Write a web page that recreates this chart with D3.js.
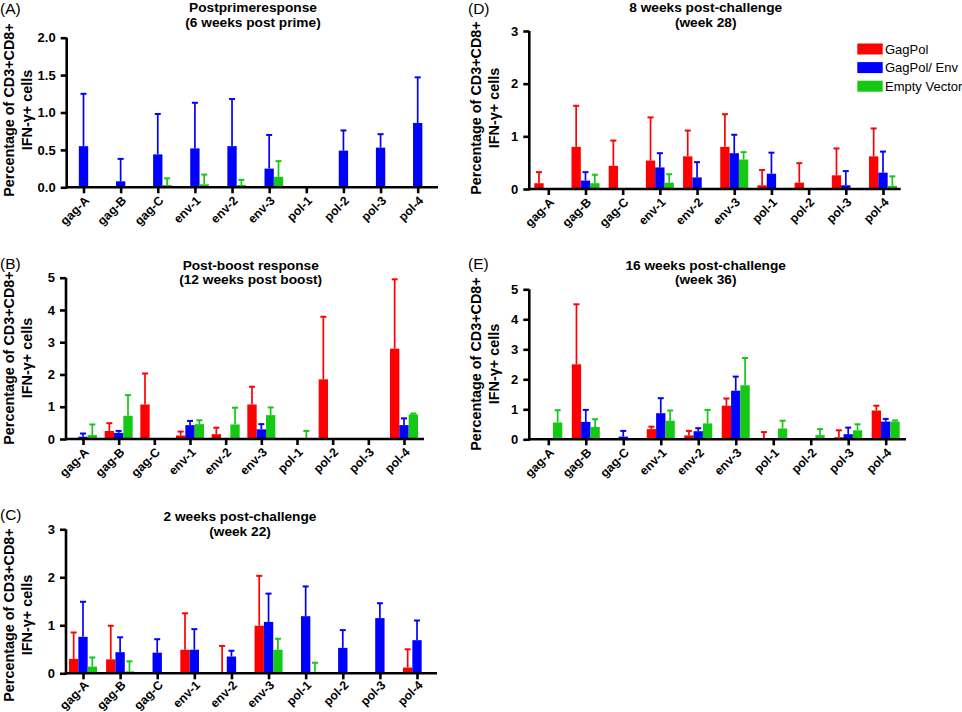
<!DOCTYPE html>
<html>
<head>
<meta charset="utf-8">
<script src="https://cdn.jsdelivr.net/npm/d3@7"></script>
<style>
  html, body { margin: 0; padding: 0; background: #fff; }
  svg { display: block; font-family: Arial, "Liberation Sans", sans-serif; }
</style>
</head>
<body>
<svg id="chart" width="962" height="712"></svg>
<script>
// ---------- DATA ----------
const categories = ["gag-A","gag-B","gag-C","env-1","env-2","env-3","pol-1","pol-2","pol-3","pol-4"];
const seriesNames = ["GagPol","GagPol/ Env","Empty Vector"];
const seriesColors = ["#ff0000","#0000ff","#14c814"];

// (A) Postprime response – mean and upper error (mean + SD)
const aGagPol        = [0,0,0,0,0,0,0,0,0,0];
const aGagPolUp      = [0,0,0,0,0,0,0,0,0,0];
const aGagPolEnv     = [0.55,0.08,0.44,0.52,0.55,0.25,0,0.49,0.53,0.86];
const aGagPolEnvUp   = [1.25,0.38,0.98,1.13,1.18,0.70,0,0.76,0.71,1.47];
const aEmpty         = [0,0,0.03,0.04,0.03,0.14,0,0,0,0];
const aEmptyUp       = [0,0,0.12,0.17,0.10,0.35,0,0,0,0];

// (B) Post-boost response
const bGagPol        = [0,0.25,1.07,0.11,0.15,1.07,0,1.85,0,2.80];
const bGagPolUp      = [0,0.49,2.03,0.23,0.35,1.62,0,3.79,0,4.95];
const bGagPolEnv     = [0.07,0.19,0,0.43,0,0.30,0,0,0,0.43];
const bGagPolEnvUp   = [0.17,0.25,0,0.56,0,0.46,0,0,0,0.64];
const bEmpty         = [0.12,0.72,0,0.46,0.45,0.74,0,0,0,0.76];
const bEmptyUp       = [0.45,1.36,0,0.58,0.97,0.98,0.25,0,0,0.79];

// (C) 2 weeks post-challenge
const cGagPol        = [0.30,0.29,0,0.49,0.01,0.99,0,0,0,0.12];
const cGagPolUp      = [0.85,0.99,0,1.25,0.57,2.03,0,0,0,0.50];
const cGagPolEnv     = [0.76,0.44,0.43,0.49,0.35,1.07,1.19,0.53,1.15,0.69];
const cGagPolEnvUp   = [1.49,0.75,0.71,0.92,0.47,1.66,1.81,0.90,1.46,1.10];
const cEmpty         = [0.14,0.04,0,0,0,0.49,0.03,0,0,0];
const cEmptyUp       = [0.33,0.25,0,0,0,0.72,0.22,0,0,0];

// (D) 8 weeks post-challenge
const dGagPol        = [0.11,0.80,0.44,0.54,0.62,0.80,0.07,0.12,0.26,0.62];
const dGagPolUp      = [0.32,1.58,0.92,1.36,1.11,1.42,0.36,0.49,0.77,1.15];
const dGagPolEnv     = [0,0.16,0,0.41,0.22,0.68,0.29,0,0.07,0.31];
const dGagPolEnvUp   = [0,0.32,0,0.68,0.51,1.03,0.69,0,0.34,0.71];
const dEmpty         = [0,0.11,0,0.12,0,0.56,0,0,0,0.06];
const dEmptyUp       = [0,0.27,0,0.28,0,0.70,0,0,0,0.24];

// (E) 16 weeks post-challenge
const eGagPol        = [0,2.50,0,0.34,0.13,1.12,0.04,0,0.07,0.96];
const eGagPolUp      = [0,4.50,0,0.42,0.28,1.36,0.24,0,0.30,1.12];
const eGagPolEnv     = [0,0.58,0.09,0.87,0.27,1.62,0,0,0.17,0.59];
const eGagPolEnvUp   = [0,0.98,0.28,1.37,0.37,2.09,0,0,0.39,0.68];
const eEmpty         = [0.56,0.41,0,0.62,0.53,1.80,0.36,0.14,0.30,0.59];
const eEmptyUp       = [0.97,0.67,0,0.96,0.98,2.71,0.62,0.34,0.50,0.63];

const yTicksA = [0,0.5,1,1.5,2];
const yTicks3 = [0,1,2,3];
const yTicks5 = [0,1,2,3,4,5];
const yLabelLines = ["Percentage of CD3+CD8+","IFN-\u03B3+ cells"];

// ---------- LAYOUT ----------
const panels = [
  { letter:"(A)", lx:0, ly:13.5, title:["Postprimeresponse","(6 weeks post prime)"], tx:253, ty:[7,21.8],
    x0:66.7, xEnd:438, first:83.5, last:417.7, y0:187.3, yTop:37.7, yMax:2, ticks:yTicksA, fmt:d3.format(".1f"),
    labX:[8.5,26.7], labY:110, xlab:14,
    data:[[aGagPol,aGagPolUp],[aGagPolEnv,aGagPolEnvUp],[aEmpty,aEmptyUp]] },
  { letter:"(B)", lx:0, ly:269, title:["Post-boost response","(12 weeks post boost)"], tx:250.7, ty:[264.8,279.6],
    x0:66, xEnd:424, first:83, last:404, y0:439, yTop:277.7, yMax:5, ticks:yTicks5, fmt:d3.format("d"),
    labX:[8.5,26.7], labY:358, xlab:14,
    data:[[bGagPol,bGagPolUp],[bGagPolEnv,bGagPolEnvUp],[bEmpty,bEmptyUp]] },
  { letter:"(C)", lx:0, ly:519.5, title:["2 weeks post-challenge","(week 22)"], tx:240, ty:[516,530.8],
    x0:66, xEnd:437, first:83, last:417, y0:673.3, yTop:529.3, yMax:3, ticks:yTicks3, fmt:d3.format("d"),
    labX:[8.5,26.7], labY:615, xlab:12.5,
    data:[[cGagPol,cGagPolUp],[cGagPolEnv,cGagPolEnvUp],[cEmpty,cEmptyUp]] },
  { letter:"(D)", lx:468, ly:13.5, title:["8 weeks post-challenge","(week 28)"], tx:705.7, ty:[7.3,22.7],
    x0:529.3, xEnd:900.7, first:548.3, last:883, y0:189, yTop:31, yMax:3, ticks:yTicks3, fmt:d3.format("d"),
    labX:[475.5,493.5], labY:108, legend:true, xlab:14,
    data:[[dGagPol,dGagPolUp],[dGagPolEnv,dGagPolEnvUp],[dEmpty,dEmptyUp]] },
  { letter:"(E)", lx:468, ly:269, title:["16 weeks post-challenge","(week 36)"], tx:705.7, ty:[264.8,279.6],
    x0:529.3, xEnd:906, first:548.3, last:885.7, y0:439.3, yTop:289.3, yMax:5, ticks:yTicks5, fmt:d3.format("d"),
    labX:[475.5,493.5], labY:364, xlab:14,
    data:[[eGagPol,eGagPolUp],[eGagPolEnv,eGagPolEnvUp],[eEmpty,eEmptyUp]] }
];

const svg = d3.select("#chart");
const AXW = 2.6;
const FONT = "Arial, 'Liberation Sans', sans-serif";

panels.forEach(p => {
  const g = svg.append("g");
  const x = d3.scalePoint().domain(categories).range([p.first, p.last]);
  const xs = d3.scaleBand().domain(seriesNames).range([-14, 14]).padding(0);
  const y = d3.scaleLinear().domain([0, p.yMax]).range([p.y0, p.yTop]);

  // letter
  g.append("text").attr("x", p.lx).attr("y", p.ly).attr("font-size", 15.5).text(p.letter);

  // title
  p.title.forEach((t, i) => {
    g.append("text").attr("x", p.tx).attr("y", p.ty[i]).attr("dy", "0.35em")
      .attr("text-anchor", "middle").attr("font-size", 13.7).attr("font-weight", "bold").text(t);
  });

  // y label
  yLabelLines.forEach((t, i) => {
    g.append("text")
      .attr("transform", `translate(${p.labX[i]},${p.labY}) rotate(-90)`)
      .attr("dy", "0.35em").attr("text-anchor", "middle")
      .attr("font-size", 14.4).attr("font-weight", "bold").text(t);
  });

  // bars + error bars
  const series = seriesNames.map((name, si) => ({
    name, color: seriesColors[si],
    vals: categories.map((c, ci) => ({ c, v: p.data[si][0][ci], up: p.data[si][1][ci] }))
  }));
  const sg = g.selectAll(".series").data(series).join("g").attr("class", "series");
  sg.each(function(s) {
    const gg = d3.select(this);
    const bw = xs.bandwidth();
    const cx = d => x(d.c) + xs(s.name) + bw / 2;
    const withErr = s.vals.filter(d => d.up > d.v);
    gg.selectAll("line.whisk").data(withErr).join("line").attr("class", "whisk")
      .attr("x1", cx).attr("x2", cx).attr("y1", d => y(d.v)).attr("y2", d => y(d.up))
      .attr("stroke", s.color).attr("stroke-width", 1.7);
    gg.selectAll("line.cap").data(withErr).join("line").attr("class", "cap")
      .attr("x1", d => cx(d) - 3).attr("x2", d => cx(d) + 3)
      .attr("y1", d => y(d.up)).attr("y2", d => y(d.up))
      .attr("stroke", s.color).attr("stroke-width", 2);
    gg.selectAll("rect").data(s.vals.filter(d => d.v > 0)).join("rect")
      .attr("x", d => x(d.c) + xs(s.name)).attr("width", bw)
      .attr("y", d => y(d.v)).attr("height", d => p.y0 - y(d.v))
      .attr("fill", s.color);
  });

  // y axis
  const ya = g.append("g").attr("transform", `translate(${p.x0},0)`)
    .call(d3.axisLeft(y).tickValues(p.ticks).tickFormat(p.fmt).tickSize(6).tickSizeOuter(0).tickPadding(5));
  ya.select(".domain").attr("stroke-width", AXW).attr("d", `M0,${p.y0 + AXW/2}V${p.yTop}`);
  ya.selectAll(".tick line").attr("stroke-width", AXW);
  ya.selectAll(".tick text").attr("font-size", 13).attr("font-weight", "bold")
    .attr("font-family", FONT).attr("fill", "#000");

  // x axis
  const xa = g.append("g").attr("transform", `translate(0,${p.y0})`)
    .call(d3.axisBottom(x).tickSize(6).tickSizeOuter(0).tickPadding(0));
  xa.select(".domain").attr("stroke-width", AXW).attr("d", `M${p.x0},0H${p.xEnd}`);
  xa.selectAll(".tick line").attr("stroke-width", AXW);
  xa.selectAll(".tick text")
    .attr("font-size", 12.3).attr("font-weight", "bold")
    .attr("font-family", FONT).attr("fill", "#000")
    .attr("text-anchor", "end").attr("y", 0).attr("dy", 0)
    .attr("transform", `translate(6,${p.xlab}) rotate(-45)`);

  // legend
  if (p.legend) {
    const lg = g.append("g");
    seriesNames.forEach((n, i) => {
      const yy = 49 + i * 18.6;
      lg.append("rect").attr("x", 857.3).attr("y", yy - 5.5).attr("width", 25.4).attr("height", 11)
        .attr("fill", seriesColors[i]);
      lg.append("text").attr("x", 885).attr("y", yy).attr("dy", "0.35em")
        .attr("font-size", 13).text(n);
    });
  }
});
</script>
</body>
</html>
